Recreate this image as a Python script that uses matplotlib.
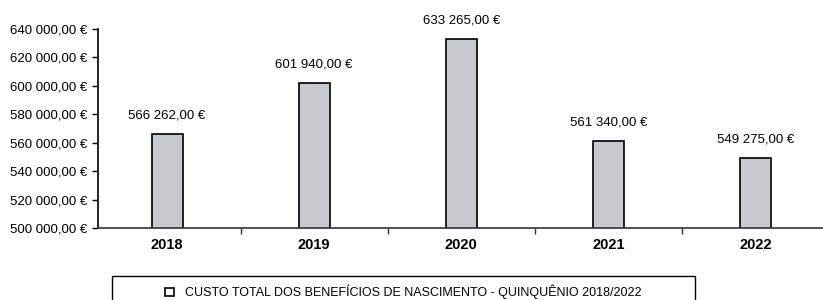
import matplotlib.pyplot as plt
from matplotlib.patches import Rectangle
from matplotlib.ticker import FuncFormatter

anos = ['2018', '2019', '2020', '2021', '2022']
custos = [566262.00, 601940.00, 633265.00, 561340.00, 549275.00]
legenda = 'CUSTO TOTAL DOS BENEFÍCIOS DE NASCIMENTO - QUINQUÊNIO 2018/2022'

plt.rcParams['font.family'] = ['Liberation Sans', 'DejaVu Sans']


def euros(v, pos=None):
    s = f'{v:,.2f}'.replace(',', ' ').replace('.', ',')
    return s + ' €'


fig = plt.figure(figsize=(8.23, 3.0), dpi=100)
ax = fig.add_axes([98 / 823, 72 / 300, 1 - 98 / 823, 199 / 300])

x = list(range(len(anos)))
ax.bar(x, custos, width=0.21, color='#c8c8cf', edgecolor='black', linewidth=1.2)

for xi, v in zip(x, custos):
    ax.annotate(euros(v), (xi, v), xytext=(0, 9), textcoords='offset points',
                ha='center', va='bottom', fontsize=9.5)

ax.set_ylim(500000, 640000)
ax.set_yticks(range(500000, 640001, 20000))
ax.yaxis.set_major_formatter(FuncFormatter(euros))
ax.set_xlim(-0.47, 4.46)
ax.set_xticks(x)
ax.set_xticklabels(anos, fontweight='bold', fontsize=10.5)
ax.set_xticks([0.5, 1.5, 2.5, 3.5], minor=True)
ax.tick_params(axis='x', which='major', length=0, pad=7)
ax.tick_params(axis='x', which='minor', length=4, width=1, color='#333333')
ax.tick_params(axis='y', length=4, width=1, labelsize=9.5, pad=4)

ax.spines['top'].set_visible(False)
ax.spines['right'].set_visible(False)
ax.spines['left'].set_linewidth(1.2)
ax.spines['bottom'].set_linewidth(1.2)
ax.spines['bottom'].set_color('#333333')

# caixa da legenda
fig.patches.append(Rectangle((112 / 823, -0.05), 583 / 823, 0.13, transform=fig.transFigure,
                             fill=False, edgecolor='black', linewidth=1.0))
fig.legend(handles=[Rectangle((0, 0), 1, 1, facecolor='white', edgecolor='black', linewidth=1.2)],
           labels=[legenda], loc='center', bbox_to_anchor=(403 / 823, 8 / 300),
           frameon=False, fontsize=9, handlelength=0.7, handleheight=0.7, handletextpad=0.9)

fig.savefig('out.png', dpi=100)
